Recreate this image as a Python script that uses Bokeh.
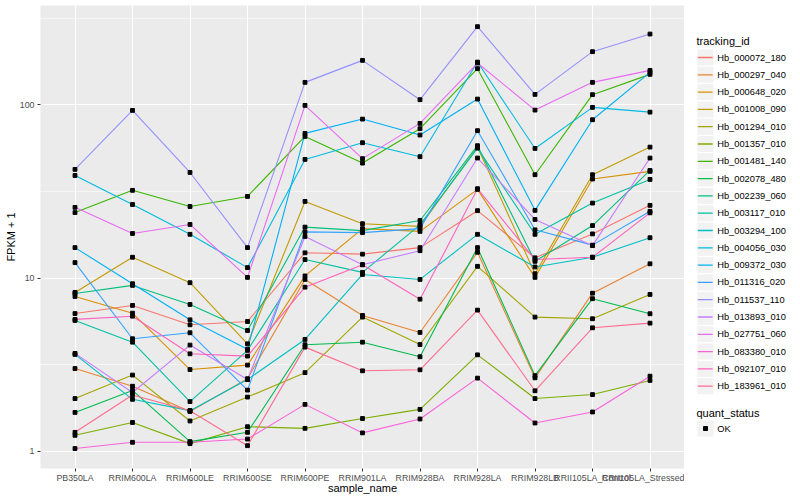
from bokeh.plotting import figure
from bokeh.layouts import row
from bokeh.models import (ColumnDataSource, FactorRange, Range1d, FixedTicker,
                          PrintfTickFormatter)
from bokeh.core.properties import value
from bokeh.embed import file_html
from bokeh.resources import INLINE

FONT = "Liberation Sans"

samples = ["PB350LA", "RRIM600LA", "RRIM600LE", "RRIM600SE", "RRIM600PE",
           "RRIM901LA", "RRIM928BA", "RRIM928LA", "RRIM928LB",
           "RRII105LA_Control", "RRII105LA_Stressed"]

tracking_ids = ["Hb_000072_180", "Hb_000297_040", "Hb_000648_020", "Hb_001008_090",
                "Hb_001294_010", "Hb_001357_010", "Hb_001481_140", "Hb_002078_480",
                "Hb_002239_060", "Hb_003117_010", "Hb_003294_100", "Hb_004056_030",
                "Hb_009372_030", "Hb_011316_020", "Hb_011537_110", "Hb_013893_010",
                "Hb_027751_060", "Hb_083380_010", "Hb_092107_010", "Hb_183961_010"]

colors = ["#F8766D", "#EA8331", "#D89000", "#C09B00", "#A3A500", "#7CAE00", "#39B600",
          "#00BB4E", "#00BF7D", "#00C1A3", "#00BFC4", "#00BAE0", "#00B0F6", "#35A2FF",
          "#9590FF", "#C77CFF", "#E76BF3", "#FA62DB", "#FF62BC", "#FF6C90"]

# FPKM + 1 per sample (order of `samples`)
Hb_000072_180 = [6.25, 6.96, 5.38, 5.62, 14.0, 13.75, 15.0, 24.5, 13.1, 18.0, 26.3]
Hb_000297_040 = [3.01, 2.38, 1.70, 2.63, 9.83, 6.09, 4.86, 14.1, 2.66, 8.19, 12.1]
Hb_000648_020 = [7.84, 6.28, 2.97, 3.15, 10.3, 19.3, 18.6, 32.5, 10.1, 37.3, 41.3]
Hb_001008_090 = [8.27, 13.2, 9.41, 4.18, 27.7, 20.6, 19.9, 57.0, 10.6, 39.5, 57.0]
Hb_001294_010 = [2.02, 2.76, 1.50, 2.06, 2.85, 5.96, 4.14, 11.7, 5.96, 5.83, 8.05]
Hb_001357_010 = [1.24, 1.47, 1.11, 1.39, 1.36, 1.55, 1.75, 3.61, 2.02, 2.13, 2.57]
Hb_001481_140 = [23.9, 32.1, 25.9, 29.6, 65.7, 46.1, 72.8, 161.6, 39.5, 114.4, 149.8]
Hb_002078_480 = [1.68, 2.25, 1.14, 1.29, 4.13, 4.27, 3.52, 15.0, 2.74, 7.61, 6.23]
Hb_002239_060 = [8.16, 9.08, 7.05, 4.99, 19.7, 18.8, 21.5, 58.1, 12.5, 20.1, 41.8]
Hb_003117_010 = [5.70, 4.27, 1.94, 3.83, 12.8, 10.8, 20.3, 56.2, 17.9, 27.1, 37.1]
Hb_003294_100 = [3.63, 2.00, 1.72, 2.60, 4.43, 10.5, 9.83, 17.9, 11.6, 13.2, 17.1]
Hb_004056_030 = [39.1, 26.6, 17.9, 11.5, 48.4, 60.4, 50.2, 176.4, 56.0, 96.6, 90.7]
Hb_009372_030 = [15.0, 9.28, 5.75, 3.89, 68.4, 82.7, 66.9, 107.9, 24.6, 82.0, 153.8]
Hb_011316_020 = [12.3, 4.47, 4.84, 2.26, 18.5, 18.3, 19.3, 70.9, 19.0, 15.5, 24.3]
Hb_011537_110 = [42.4, 92.8, 40.7, 15.0, 134.7, 180.4, 107.0, 282.3, 114.8, 202.5, 255.9]
Hb_013893_010 = [3.68, 2.19, 4.11, 2.60, 17.4, 11.95, 14.4, 49.3, 21.8, 15.4, 49.3]
Hb_027751_060 = [25.6, 18.1, 20.4, 10.1, 99.2, 48.9, 78.1, 174.1, 93.2, 134.7, 157.9]
Hb_083380_010 = [1.04, 1.13, 1.13, 1.18, 1.87, 1.28, 1.54, 2.65, 1.46, 1.69, 2.72]
Hb_092107_010 = [5.78, 6.03, 3.66, 3.55, 8.87, 11.95, 7.56, 32.8, 12.8, 13.2, 23.8]
Hb_183961_010 = [1.29, 2.12, 1.72, 1.08, 4.00, 2.92, 2.96, 6.54, 2.24, 5.17, 5.50]

series = [Hb_000072_180, Hb_000297_040, Hb_000648_020, Hb_001008_090, Hb_001294_010,
          Hb_001357_010, Hb_001481_140, Hb_002078_480, Hb_002239_060, Hb_003117_010,
          Hb_003294_100, Hb_004056_030, Hb_009372_030, Hb_011316_020, Hb_011537_110,
          Hb_013893_010, Hb_027751_060, Hb_083380_010, Hb_092107_010, Hb_183961_010]

quant_status = ["OK"]

y_ticks = [1, 10, 100]
y_minor = [10 ** 0.5, 10 ** 1.5, 10 ** 2.5]

H = 500
TOP, BOTTOM = 5, 32
p = figure(width=684, height=H,
           x_range=FactorRange(factors=samples, range_padding=0.1,
                               range_padding_units="absolute"),
           y_axis_type="log", y_range=Range1d(0.7978, 373.9),
           output_backend="svg", toolbar_location=None,
           min_border_left=40, min_border_right=0,
           min_border_top=TOP, min_border_bottom=BOTTOM)

p.background_fill_color = "#EBEBEB"
p.border_fill_color = "white"
p.outline_line_color = None

ticker = FixedTicker(ticks=y_ticks, minor_ticks=y_minor)
p.yaxis.ticker = ticker
p.ygrid.ticker = ticker
p.yaxis.formatter = PrintfTickFormatter(format="%d")

for g in (p.xgrid, p.ygrid):
    g.grid_line_color = "white"
    g.grid_line_width = 1.1
p.ygrid.minor_grid_line_color = "white"
p.ygrid.minor_grid_line_width = 0.55

for ax in (p.xaxis, p.yaxis):
    ax.axis_line_color = None
    ax.major_tick_line_color = "#333333"
    ax.major_tick_out = 3
    ax.major_tick_in = 0
    ax.minor_tick_line_color = None
    ax.major_label_text_color = "#4D4D4D"
    ax.major_label_text_font = FONT
    ax.major_label_text_font_size = "8.8px"
    ax.major_label_standoff = 1
    ax.major_label_text_line_height = 1.0
    ax.axis_label_text_font = FONT
    ax.axis_label_text_font_size = "11px"
    ax.axis_label_text_font_style = "normal"
    ax.axis_label_text_color = "black"
    ax.axis_label_text_line_height = 1.0
p.xaxis.axis_label_standoff = -4
p.yaxis.axis_label_standoff = 0
p.yaxis.major_label_standoff = 2

p.xaxis.axis_label = "sample_name"
p.yaxis.axis_label = "FPKM + 1"

for tid, col, vals in zip(tracking_ids, colors, series):
    src = ColumnDataSource(dict(x=samples, y=vals))
    p.line(x="x", y="y", source=src, line_color=col, line_width=1.1)

pts_x, pts_y = [], []
for vals in series:
    for s, v in zip(samples, vals):
        pts_x.append(s)
        pts_y.append(v)
pts = ColumnDataSource(dict(x=pts_x, y=pts_y))
p.scatter(x="x", y="y", source=pts, marker="square", size=3.8,
          fill_color="black", line_color="black")

# ---- legend panel: a side figure whose data units are page pixels ----
LX0, LW = 684, 116
lg = figure(width=LW, height=H, x_range=Range1d(LX0, LX0 + LW),
            y_range=Range1d(H - BOTTOM, TOP),
            x_axis_type=None, y_axis_type=None, output_backend="svg",
            toolbar_location=None,
            min_border_left=0, min_border_right=0,
            min_border_top=TOP, min_border_bottom=BOTTOM)
lg.grid.visible = False
lg.outline_line_color = None
lg.background_fill_color = "white"
lg.border_fill_color = "white"

key_x0, key_w, key_h, key_step = 697.0, 16.0, 16.0, 17.3
key_top0 = 49.0
label_x = 716.7
n = len(tracking_ids)
tops = [key_top0 + i * key_step for i in range(n)]
lg.quad(left=[key_x0] * n, right=[key_x0 + key_w] * n, top=tops,
        bottom=[t + key_h for t in tops], fill_color="#F2F2F2", line_color=None)
mids = [t + key_h / 2 for t in tops]
lg.segment(x0=[key_x0 + 0.3] * n, x1=[key_x0 + key_w - 0.8] * n, y0=mids, y1=mids,
           line_color=colors, line_width=1.3)
lg.text(x=[label_x] * n, y=mids, text=tracking_ids, text_font=value(FONT),
        text_font_size=value("9.3px"), text_baseline="middle", text_align="left",
        text_color="black")
lg.text(x=[696.0], y=[40.5], text=["tracking_id"], text_font=value(FONT),
        text_font_size=value("11px"), text_baseline="middle", text_align="left",
        text_color="black")

q_top = 420.0
lg.text(x=[696.0], y=[412.0], text=["quant_status"], text_font=value(FONT),
        text_font_size=value("11px"), text_baseline="middle", text_align="left",
        text_color="black")
lg.quad(left=[key_x0], right=[key_x0 + key_w], top=[q_top], bottom=[q_top + key_h],
        fill_color="#F2F2F2", line_color=None)
lg.scatter(x=[key_x0 + key_w / 2], y=[q_top + key_h / 2], marker="square", size=4.0,
           fill_color="black", line_color="black")
lg.text(x=[label_x], y=[q_top + key_h / 2], text=quant_status, text_font=value(FONT),
        text_font_size=value("9.3px"), text_baseline="middle", text_align="left",
        text_color="black")

layout = row(p, lg)
open("out.html", "w").write(file_html(layout, INLINE))
